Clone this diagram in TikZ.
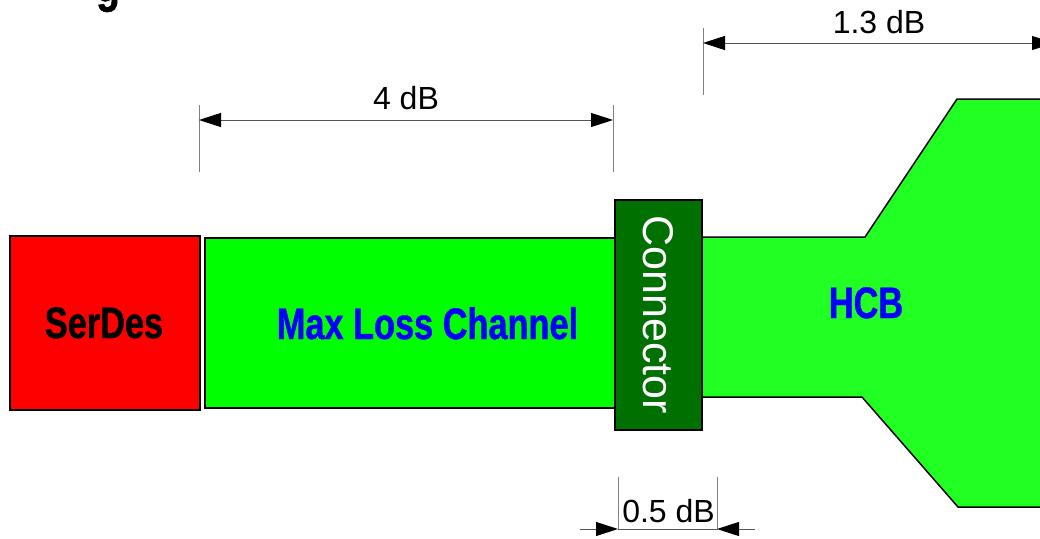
\documentclass[tikz,border=0pt]{standalone}
\usepackage{fontspec}
\setmainfont{Liberation Sans}
\newfontfamily\narrowbf[FakeStretch=0.78, FakeBold=1]{Liberation Sans Bold}
\usetikzlibrary{arrows.meta, positioning, calc}
\definecolor{serred}{HTML}{FF0000}
\definecolor{chgreen}{HTML}{00FF00}
\definecolor{hcbgreen}{HTML}{22FF22}
\definecolor{condark}{HTML}{007000}
\definecolor{lblblue}{HTML}{0000FF}
\definecolor{dimgray}{HTML}{555555}
\definecolor{tickgray}{HTML}{808080}

\begin{document}
\begin{tikzpicture}[x=1pt, y=-1pt,
  block/.style={rectangle, draw=black, line width=1.5pt, inner sep=0pt},
  bigbold/.style={font=\narrowbf\fontsize{44}{50}\selectfont, anchor=base},
  dimlabel/.style={font=\fontsize{32}{36}\selectfont, anchor=base},
  tick/.style={draw=tickgray, line width=0.8pt},
  dimline/.style={draw=dimgray, line width=1pt},
  dimend/.style={dimline, -{Triangle[length=22pt, width=14pt, color=black]}},
  dimboth/.style={dimline, {Triangle[length=22pt, width=14pt, color=black]}-{Triangle[length=22pt, width=14pt, color=black]}},
]
\useasboundingbox (0,0) rectangle (1040,538);
\fill[white] (0,0) rectangle (1040,538);
% cut-off title
\node[font=\narrowbf\fontsize{50}{60}\selectfont, anchor=base] (title) at (108,1.5) {g};
% signal path
\node[block, fill=serred, minimum width=190pt, minimum height=174pt] (serdes) at (105,323) {};
\node[bigbold] (serlbl) at (104,338) {SerDes};
\node[block, fill=chgreen, minimum width=410pt, minimum height=170pt] (chan) at (410,323) {};
\node[bigbold, text=lblblue] (chanlbl) at (427.5,339) {Max Loss Channel};
\draw[fill=hcbgreen, line width=1.5pt] (702,237) -- (865,237) -- (957,99) -- (1050,99) -- (1050,507) -- (958,507) -- (862,397) -- (702,397);
\coordinate (hcb) at (866,318);
\node[bigbold, text=lblblue] (hcblbl) at (hcb) {HCB};
\node[block, fill=condark, text=white, rotate=-90, minimum width=230pt, minimum height=87pt,
  font=\fontsize{43}{50}\selectfont] (conn) at (658.5,315) {Connector};
% 4 dB
\coordinate (chL) at (199,120);
\coordinate (chR) at (613,120);
\draw[tick] (199,105) -- (199,172);
\draw[tick] (613,105) -- (613,172);
\draw[dimboth] (chL) -- (chR);
\node[dimlabel] (chdb) at (406,109.5) {4 dB};
% 1.3 dB
\coordinate (hcbL) at (703,43);
\coordinate (hcbR) at (1054,43);
\draw[tick] (703,28) -- (703,95);
\draw[dimboth] (hcbL) -- (hcbR);
\node[dimlabel] (hcbdb) at (879,33.5) {1.3 dB};
% 0.5 dB
\coordinate (cnL) at (618,529);
\coordinate (cnR) at (717,529);
\coordinate (cnLout) at (580,529);
\coordinate (cnRout) at (755,529);
\draw[tick] (618,477) -- (618,530);
\draw[tick] (717,477) -- (717,530);
\draw[dimline] (cnL) -- (cnR);
\draw[dimend] (cnLout) -- (cnL);
\draw[dimend] (cnRout) -- (cnR);
\node[dimlabel] (cndb) at (668.5,522) {0.5 dB};
\end{tikzpicture}
\end{document}
